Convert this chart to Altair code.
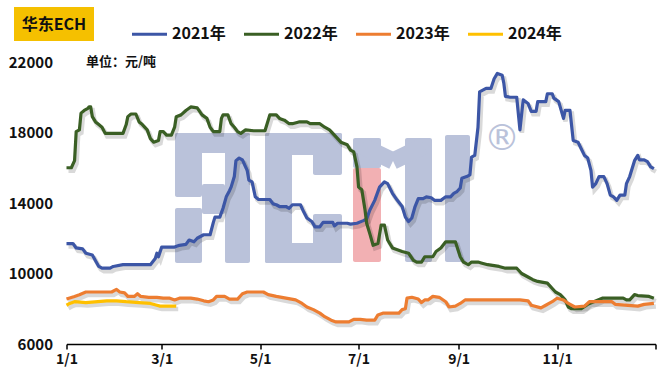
import altair as alt
import pandas as pd

# ---------------- data (day-of-year offsets from 1/1, price in 元/吨) ----------------
YEARS = ["2021年", "2022年", "2023年", "2024年"]
COLORS = ["#3C56A6", "#3A5F24", "#ED7D31", "#FFC000"]

D2021 = [0, 4, 6, 10, 12, 16, 20, 22, 27, 29, 35, 52, 55, 56, 57, 59, 67, 70, 74, 76,
         79, 81, 85, 89, 91, 92, 95, 97, 99, 101, 102, 104, 105, 107, 109, 112, 113, 115, 117, 119,
         126, 128, 130, 132, 136, 138, 140, 145, 147, 149, 152, 154, 157, 159, 165, 166, 168, 174, 176, 180,
         184, 186, 188, 191, 194, 197, 199, 202, 205, 208, 210, 212, 214, 216, 218, 221, 223, 226, 228, 232,
         235, 238, 240, 242, 244, 245, 248, 250, 251, 253, 255, 256, 258, 260, 263, 265, 267, 270, 271, 272,
         275, 279, 281, 283, 286, 288, 291, 292, 297, 298, 301, 302, 305, 308, 309, 312, 314, 317, 321, 323,
         325, 326, 328, 330, 333, 335, 337, 339, 341, 343, 346, 347, 349, 352, 354, 355, 358, 360, 362, 364]
V2021 = [11700, 11700, 11450, 11400, 11150, 11050, 10400, 10300, 10300, 10400, 10500, 10500, 10850, 11150, 10950, 11500, 11500, 11600, 11650, 11900,
         11800, 12000, 12200, 12200, 12900, 13200, 13200, 13700, 14350, 14700, 14900, 15500, 16400, 16550, 16450, 15850, 15300, 15200, 14350, 14200,
         14200, 13950, 13900, 13800, 13800, 13700, 13900, 13900, 13500, 13150, 12950, 12650, 12650, 12900, 12900, 12700, 12850, 12850, 12800, 12850,
         13000, 13100, 13600, 14150, 14900, 15200, 15100, 14550, 14150, 13800, 13200, 12950, 13150, 13800, 14250, 14250, 14350, 14300, 14150, 14150,
         14350, 14350, 14550, 14650, 14850, 15400, 15500, 15600, 16600, 16700, 18300, 20300, 20400, 20500, 20500, 21050, 21350, 21250, 20800, 20050,
         20000, 20000, 18150, 19850, 19650, 19200, 19200, 19750, 19750, 20200, 20200, 19950, 19750, 18800, 19250, 19250, 17550, 17450, 16700, 16550,
         15850, 14900, 15100, 15500, 15500, 15100, 14450, 14350, 14150, 14450, 14450, 15100, 15500, 16400, 16700, 16450, 16450, 16350, 16050, 15950]

D2022 = [0, 3, 5, 6, 8, 9, 11, 13, 14, 15, 16, 18, 20, 22, 24, 35, 37, 38, 40, 43,
         45, 47, 50, 52, 54, 57, 58, 60, 62, 65, 67, 68, 71, 74, 77, 81, 84, 87, 89, 91,
         95, 96, 97, 100, 102, 104, 106, 108, 111, 116, 123, 126, 130, 132, 135, 138, 140, 144, 149, 151,
         157, 160, 163, 166, 170, 174, 176, 178, 180, 181, 183, 185, 186, 188, 190, 193, 195, 197, 199, 202,
         205, 208, 212, 215, 217, 220, 222, 227, 229, 232, 235, 241, 244, 246, 249, 251, 255, 257, 261, 268,
         272, 279, 282, 286, 289, 292, 298, 301, 303, 306, 309, 311, 313, 319, 323, 332, 345, 347, 349, 352,
         354, 361, 364]
V2022 = [16000, 16000, 16400, 18050, 18150, 19100, 19250, 19350, 19450, 19450, 18900, 18600, 18450, 18300, 17950, 17950, 18450, 18900, 19050, 19050,
         18600, 18450, 18150, 17650, 17450, 17550, 18050, 18050, 17850, 17850, 18300, 18900, 19000, 19250, 19450, 19400, 19000, 18800, 18300, 18050,
         18050, 18800, 19000, 19000, 18500, 18300, 18050, 17950, 18150, 18100, 18100, 19000, 19000, 18800, 18700, 18500, 18500, 18600, 18600, 18500,
         18500, 18300, 18150, 17850, 17450, 17300, 17000, 16900, 16050, 14900, 14750, 13600, 12850, 12250, 11600, 11700, 12750, 12750, 11900, 11450,
         11350, 11250, 11150, 10750, 10650, 10650, 10950, 10950, 11250, 11450, 11800, 11800, 10950, 10650, 10500, 10650, 10650, 10600, 10500, 10400,
         10300, 10300, 10000, 9800, 9650, 9550, 9450, 9150, 8950, 8800, 8500, 8100, 8000, 8000, 8250, 8600, 8600, 8500, 8500, 8800,
         8750, 8700, 8600]

D2023 = [0, 5, 8, 12, 28, 31, 33, 36, 38, 42, 44, 46, 51, 56, 60, 64, 67, 70, 77, 81,
         85, 88, 91, 93, 98, 101, 106, 109, 112, 122, 125, 130, 136, 142, 146, 149, 153, 157, 160, 164,
         167, 171, 175, 178, 182, 186, 191, 193, 196, 206, 208, 210, 211, 214, 218, 220, 222, 224, 227, 231,
         235, 237, 241, 244, 247, 281, 286, 288, 294, 297, 301, 304, 308, 311, 315, 321, 324, 338, 340, 354,
         358, 364]
V2023 = [8550, 8700, 8800, 8950, 8950, 9100, 8950, 8900, 8700, 8700, 8850, 8700, 8650, 8650, 8600, 8600, 8500, 8600, 8600, 8550,
         8450, 8400, 8500, 8700, 8700, 8550, 8550, 8850, 8950, 8950, 8800, 8700, 8600, 8500, 8300, 8100, 7950, 7750, 7550, 7350,
         7250, 7250, 7250, 7400, 7400, 7350, 7350, 7650, 7750, 7750, 7950, 8000, 8600, 8650, 8550, 8350, 8500, 8500, 8700, 8650,
         8400, 8100, 8150, 8300, 8500, 8500, 8450, 8200, 8050, 8200, 8400, 8600, 8500, 8300, 8100, 8150, 8400, 8400, 8250, 8150,
         8250, 8300]

D2024 = [0, 2, 5, 12, 25, 31, 37, 45, 52, 56, 58, 68]
V2024 = [8200, 8300, 8400, 8350, 8450, 8450, 8400, 8350, 8300, 8200, 8150, 8150]

SERIES = [(YEARS[0], D2021, V2021), (YEARS[1], D2022, V2022),
          (YEARS[2], D2023, V2023), (YEARS[3], D2024, V2024)]

TITLE = "华东ECH"
UNIT = "单位：元/吨"
Y_TICKS = [6000, 10000, 14000, 18000, 22000]

rows = []
base = pd.Timestamp("2021-01-01")
for name, days, vals in SERIES:
    for d, v in zip(days, vals):
        rows.append({"series": name, "date": base + pd.Timedelta(days=d), "value": v})
df = pd.DataFrame(rows)

# ---------------- layout ----------------
FONT = "Noto Sans CJK SC"
W, H = 589, 282
OX, OY = 66.5, 62  # plot-area origin in the page


def rx(px):
    return px - OX


def ry(py):
    return py - OY


one = pd.DataFrame({"k": [0]})

x_enc = alt.X(
    "date:T",
    scale=alt.Scale(domain=[alt.DateTime(year=2021, month=1, date=1),
                            alt.DateTime(year=2022, month=1, date=1)]),
    axis=alt.Axis(
        values=[alt.DateTime(year=2021, month=m, date=1) for m in (1, 3, 5, 7, 9, 11)]
        + [alt.DateTime(year=2022, month=1, date=1)],
        labelExpr="year(datum.value) > 2021 ? '' : timeFormat(datum.value, '%-m/%-d')",
        title=None, grid=False, domain=True, domainColor="#000", domainWidth=1.5,
        ticks=True, tickColor="#000", tickWidth=1.5, tickSize=5, labelPadding=3,
        labelFont=FONT, labelFontSize=14, labelFontWeight="bold", labelColor="#111",
        labelFlush=False,
    ),
)
y_enc = alt.Y(
    "value:Q",
    scale=alt.Scale(domain=[6000, 22000], nice=False, zero=False),
    axis=alt.Axis(values=Y_TICKS, format="d", title=None, grid=False, domain=False,
                  ticks=False, labelPadding=14, labelFont=FONT, labelFontSize=15,
                  labelFontWeight="bold", labelColor="#111"),
)

# ---------------- watermark (decorative logo) ----------------
WM = "#BAC2DA"
PINK = "#F2B0B3"
LOGO_BLOCKS = [
    # S
    (175, 250, 133, 153, WM), (175, 202, 133, 197, WM), (202, 225, 184, 214, WM),
    (225, 250, 133, 263, WM), (175, 202, 208, 263, WM),
    # C
    (265, 292, 133, 263, WM), (265, 342, 133, 155, WM), (313, 342, 133, 175, WM),
    (265, 342, 243, 263, WM), (313, 342, 214, 263, WM),
    # M
    (353, 381, 138, 168, WM), (353, 381, 168, 262, PINK),
    (405, 432, 138, 262, WM),
    # I
    (445, 470, 135, 262, WM),
]
LOGO_STROKES = [(362, 146, 393, 161), (393, 161, 424, 146)]

wm_layers = []
for x1, x2, y1, y2, c in LOGO_BLOCKS:
    wm_layers.append(
        alt.Chart(one).mark_rect(color=c, cornerRadius=2).encode(
            x=alt.value(rx(x1)), x2=alt.value(rx(x2)),
            y=alt.value(ry(y1)), y2=alt.value(ry(y2)))
    )
for x1, y1, x2, y2 in LOGO_STROKES:
    wm_layers.append(
        alt.Chart(one).mark_rule(color=WM, strokeWidth=17, strokeCap="butt").encode(
            x=alt.value(rx(x1)), y=alt.value(ry(y1)),
            x2=alt.value(rx(x2)), y2=alt.value(ry(y2)))
    )
wm_layers.append(
    alt.Chart(one).mark_text(text="®", color=WM, fontSize=36, font="DejaVu Sans",
                             align="center", baseline="middle").encode(
        x=alt.value(rx(502)), y=alt.value(ry(139)))
)

# ---------------- lines ----------------
shadow = alt.Chart(df).mark_line(color="#000", opacity=0.15, strokeWidth=4.5,
                                 xOffset=2, yOffset=3).encode(
    x=x_enc, y=y_enc, detail="series:N")

lines = alt.Chart(df).mark_line(strokeJoin="round").encode(
    x=x_enc, y=y_enc,
    color=alt.Color("series:N", scale=alt.Scale(domain=YEARS, range=COLORS),
                    legend=alt.Legend(orient="none", legendX=rx(130), legendY=ry(32) - 17.5,
                                      direction="horizontal", title=None,
                                      symbolType="stroke", symbolSize=1225,
                                      symbolStrokeWidth=4, labelFont=FONT,
                                      labelFontSize=16, labelFontWeight="bold",
                                      labelColor="#111", labelOffset=3,
                                      columnPadding=11, padding=0)),
    strokeWidth=alt.StrokeWidth("series:N",
                                scale=alt.Scale(domain=YEARS, range=[3.2, 3.2, 3.2, 4.5]),
                                legend=None),
)

# ---------------- title box & unit ----------------
title_box = alt.Chart(one).mark_rect(color="#F5C000").encode(
    x=alt.value(rx(14)), x2=alt.value(rx(94)), y=alt.value(ry(7)), y2=alt.value(ry(41)))
title_txt = alt.Chart(one).mark_text(text=TITLE, font=FONT, fontSize=16, fontWeight="bold",
                                     color="#111", align="center", baseline="middle").encode(
    x=alt.value(rx(54)), y=alt.value(ry(24.5)))
unit_txt = alt.Chart(one).mark_text(text=UNIT, font=FONT, fontSize=13, fontWeight="bold",
                                    color="#111", align="left", baseline="middle").encode(
    x=alt.value(rx(86)), y=alt.value(ry(62)))

chart = alt.layer(*wm_layers, shadow, lines, title_box, title_txt, unit_txt).properties(
    width=W, height=H,
    autosize=alt.AutoSizeParams(type="none"),
    padding={"left": OX, "top": OY, "right": 664 - OX - W, "bottom": 378 - OY - H},
    background="white",
).configure_view(stroke=None)

chart.save("out.html", embed_options={"renderer": "svg", "actions": False})
